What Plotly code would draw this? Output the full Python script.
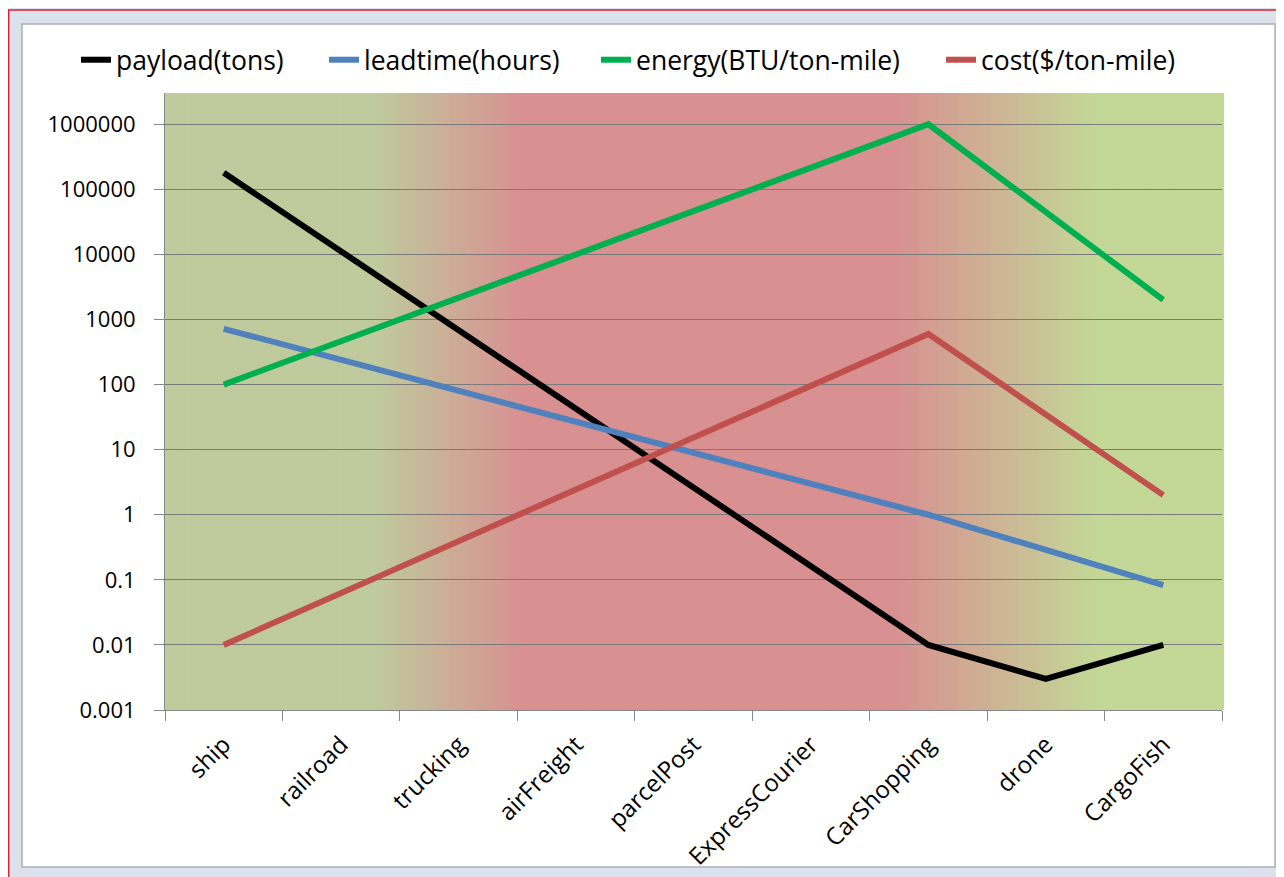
import plotly.graph_objects as go

categories = ["ship", "railroad", "trucking", "airFreight", "parcelPost",
              "ExpressCourier", "CarShopping", "drone", "CargoFish"]
payload = [180000, None, None, None, None, None, 0.01, 0.003, 0.01]
leadtime = [720, None, None, None, None, None, 1, None, 0.083]
energy = [100, None, None, None, None, None, 1000000, None, 2000]
cost = [0.01, None, None, None, None, None, 600, None, 2]

series_names = ["payload(tons)", "leadtime(hours)", "energy(BTU/ton-mile)", "cost($/ton-mile)"]
series_colors = ["#000000", "#4F81BD", "#00B050", "#C0504D"]
ytick_vals = [0.001, 0.01, 0.1, 1, 10, 100, 1000, 10000, 100000, 1000000]
ytick_text = ["0.001", "0.01", "0.1", "1", "10", "100", "1000", "10000", "100000", "1000000"]

# page has an 8px body margin; work in page pixels and convert
OFF = 8
W, H = 1284 - OFF, 877 - OFF
L, R, T, B = 165 - OFF, 1222 - OFF, 93 - OFF, 710 - OFF

def px_x(p):
    return (p - OFF - L) / (R - L)

def px_y(p):
    return (B - (p - OFF)) / (B - T)

legend_ids = ["legend", "legend2", "legend3", "legend4"]
legend_starts = [84, 332, 604, 949]

fig = go.Figure()
for name, vals, col, lg in zip(series_names, [payload, leadtime, energy, cost], series_colors, legend_ids):
    fig.add_trace(go.Scatter(x=categories, y=vals, name=name, mode="lines",
                             connectgaps=True, line=dict(color=col, width=6), legend=lg))

# background gradient strips
G1 = (191, 202, 157)
RD = (216, 144, 145)
G2 = (195, 215, 151)
stops = [(0.0, G1), (0.20, G1), (0.34, RD), (0.69, RD), (0.88, G2), (1.0, G2)]

def col_at(t):
    for (a, ca), (b, cb) in zip(stops[:-1], stops[1:]):
        if a <= t <= b:
            f = 0 if b == a else (t - a) / (b - a)
            c = [round(ca[i] + (cb[i] - ca[i]) * f) for i in range(3)]
            return "rgb(%d,%d,%d)" % tuple(c)
    return "rgb(%d,%d,%d)" % stops[-1][1]

shapes = []
# white chart card
shapes.append(dict(type="rect", xref="paper", yref="paper",
                   x0=px_x(22), x1=px_x(1275), y0=px_y(867), y1=px_y(24),
                   fillcolor="white", line=dict(color="#a9b0bb", width=1.5), layer="below"))
# red border lines
shapes.append(dict(type="line", xref="paper", yref="paper",
                   x0=px_x(8), x1=px_x(1300), y0=px_y(10), y1=px_y(10),
                   line=dict(color="#e0202a", width=1.5), layer="below"))
shapes.append(dict(type="line", xref="paper", yref="paper",
                   x0=px_x(8.7), x1=px_x(8.7), y0=px_y(10), y1=px_y(900),
                   line=dict(color="#e0202a", width=1.5), layer="below"))
N = 160
for i in range(N):
    t0 = i / N
    t1 = (i + 1) / N
    shapes.append(dict(type="rect", xref="x domain", yref="y domain",
                       x0=t0, x1=t1 + 0.002, y0=0, y1=1,
                       fillcolor=col_at((t0 + t1) / 2), line=dict(width=0), layer="below"))

layout_legends = {}
for lg, xs in zip(legend_ids, legend_starts):
    layout_legends[lg] = dict(x=px_x(xs - 8), y=px_y(60), xanchor="left", yanchor="middle",
                              font=dict(size=26.5), bgcolor="rgba(0,0,0,0)", itemwidth=30)

fig.update_layout(
    width=W, height=H,
    margin=dict(l=L, r=W - R, t=T, b=H - B, autoexpand=False),
    paper_bgcolor="#dbe2ec",
    plot_bgcolor="rgba(0,0,0,0)",
    font=dict(family="Open Sans, Liberation Sans, sans-serif", color="#000000", size=22),
    shapes=shapes,
    showlegend=True,
    xaxis=dict(type="category", categoryorder="array", categoryarray=categories,
               range=[-0.5, 8.5], showgrid=False, showline=True, linecolor="#868686",
               linewidth=1, ticks="outside", tickson="boundaries", ticklen=10,
               tickcolor="#868686", tickangle=-45, tickfont=dict(size=24),
               ticklabelstandoff=10, automargin=False),
    yaxis=dict(type="log", range=[-3, 6.48], tickvals=ytick_vals, ticktext=ytick_text,
               showgrid=True, gridcolor="#7a7a7a", gridwidth=1, showline=True,
               linecolor="#868686", ticks="outside", ticklen=10, tickcolor="#868686",
               zeroline=False, tickfont=dict(size=22), ticklabelstandoff=14,
               automargin=False),
    **layout_legends,
)

fig.write_html("out.html")
